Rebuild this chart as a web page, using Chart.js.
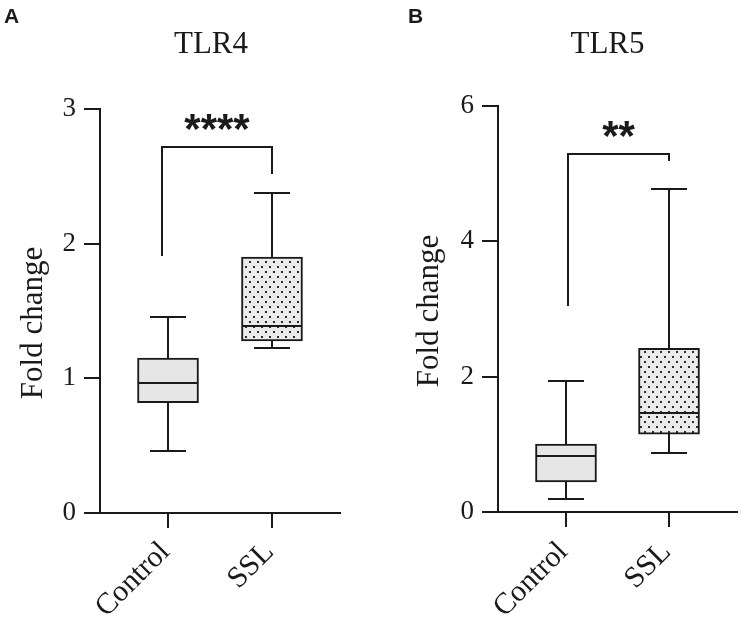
<!DOCTYPE html>
<html><head><meta charset="utf-8">
<script src="https://cdn.jsdelivr.net/npm/chart.js@4.4.1/dist/chart.umd.min.js"></script>
<style>
html,body{margin:0;padding:0;background:#fff;}
#wrap{position:relative;width:742px;height:626px;overflow:hidden;}
.panel{position:absolute;top:0;width:371px;height:626px;}
</style></head><body>
<div id="wrap">
<div class="panel" style="left:0"><canvas id="cA"></canvas></div>
<div class="panel" style="left:371px"><canvas id="cB"></canvas></div>
</div>
<script>
// ---- data ----
const categories = ['Control', 'SSL'];
const categoryPos = [1, 2];

const tlr4Min    = [0.46, 1.225];
const tlr4Q1     = [0.82, 1.277];
const tlr4Median = [0.965, 1.39];
const tlr4Q3     = [1.15, 1.90];
const tlr4Max    = [1.455, 2.376];
const tlr4Ticks  = [0, 1, 2, 3];
const tlr4Bracket = [1.91, 2.72, 2.52];   // left end, bar height, right end
const tlr4Sig = '****';

const tlr5Min    = [0.19, 0.87];
const tlr5Q1     = [0.443, 1.15];
const tlr5Median = [0.827, 1.46];
const tlr5Q3     = [1.004, 2.42];
const tlr5Max    = [1.935, 4.77];
const tlr5Ticks  = [0, 2, 4, 6];
const tlr5Bracket = [3.04, 5.29, 5.18];
const tlr5Sig = '**';

// ---- styles ----
const INK = '#1a1a1a';
const SERIF = '"Liberation Serif", "Times New Roman", serif';
const SANS = '"Liberation Sans", Arial, sans-serif';

function makeDotPattern() {
  const c = document.createElement('canvas');
  c.width = 8; c.height = 10;
  const g = c.getContext('2d');
  g.fillStyle = '#ebebeb'; g.fillRect(0, 0, 8, 10);
  g.fillStyle = '#2a2a2a';
  g.fillRect(1, 1, 2, 2);
  g.fillRect(5, 6, 2, 2);
  return g.createPattern(c, 'repeat');
}
const dotPattern = makeDotPattern();
const controlFill = '#e6e6e6';

function boxPlugin(p) {
  return {
    id: 'boxExtras' + p.letter,
    afterDatasetsDraw(chart) {
      const ctx = chart.ctx;
      const x = chart.scales.x, y = chart.scales.y;
      const R = v => Math.round(v);
      const line = (x1, y1, x2, y2) => { ctx.beginPath(); ctx.moveTo(x1, y1); ctx.lineTo(x2, y2); ctx.stroke(); };
      ctx.save();
      ctx.strokeStyle = INK; ctx.lineWidth = 2; ctx.lineCap = 'butt';
      p.xVals.forEach((xv, i) => {
        const px = R(x.getPixelForValue(xv));
        const hb = p.boxW / 2, hc = p.capW / 2;
        const yMed = R(y.getPixelForValue(p.median[i]));
        line(px - hb + 1, yMed, px + hb - 1, yMed);
        const yQ3 = R(y.getPixelForValue(p.q3[i])), yMax = R(y.getPixelForValue(p.max[i]));
        line(px, yQ3, px, yMax); line(px - hc, yMax, px + hc, yMax);
        const yQ1 = R(y.getPixelForValue(p.q1[i])), yMin = R(y.getPixelForValue(p.min[i]));
        line(px, yQ1, px, yMin); line(px - hc, yMin, px + hc, yMin);
      });
      // significance bracket
      const bl = R(x.getPixelForValue(p.brX[0])), br = R(x.getPixelForValue(p.brX[1]));
      const yb0 = R(y.getPixelForValue(p.bracket[0])), yTop = R(y.getPixelForValue(p.bracket[1])), yb1 = R(y.getPixelForValue(p.bracket[2]));
      ctx.beginPath(); ctx.moveTo(bl, yb0); ctx.lineTo(bl, yTop); ctx.lineTo(br, yTop); ctx.lineTo(br, yb1); ctx.stroke();
      ctx.fillStyle = INK;
      ctx.font = 'bold 42px ' + SANS;
      ctx.textAlign = 'center'; ctx.textBaseline = 'alphabetic';
      ctx.fillText(p.sig, (bl + br) / 2, yTop + p.sigDy);
      // category labels (rotated)
      ctx.font = '30px ' + SERIF;
      ctx.textAlign = 'right';
      p.xVals.forEach((xv, i) => {
        const px = x.getPixelForValue(xv);
        ctx.save();
        ctx.translate(px + p.labDx, p.labY);
        ctx.rotate(-Math.PI / 4);
        ctx.fillText(categories[i], 0, 0);
        ctx.restore();
      });
      // axis title
      ctx.save();
      ctx.font = '31px ' + SERIF;
      ctx.textAlign = 'center'; ctx.textBaseline = 'middle';
      ctx.translate(p.yTitle[0], p.yTitle[1]);
      ctx.rotate(-Math.PI / 2);
      ctx.fillText('Fold change', 0, 0);
      ctx.restore();
      // chart title
      ctx.font = '31px ' + SERIF;
      ctx.textAlign = 'center'; ctx.textBaseline = 'alphabetic';
      ctx.fillText(p.title, p.titlePos[0], p.titlePos[1]);
      // panel letter
      ctx.font = 'bold 21px ' + SANS;
      ctx.textAlign = 'left';
      ctx.fillText(p.letter, p.letterPos[0], p.letterPos[1]);
      ctx.restore();
    }
  };
}

function makeChart(id, p) {
  return new Chart(document.getElementById(id), {
    type: 'bar',
    data: {
      datasets: [{
        data: p.xVals.map((xv, i) => ({ x: xv, y: [p.q1[i], p.q3[i]] })),
        backgroundColor: [controlFill, dotPattern],
        borderColor: INK,
        borderWidth: 2,
        borderSkipped: false,
        barThickness: p.boxW
      }]
    },
    options: {
      responsive: true,
      maintainAspectRatio: false,
      animation: false,
      layout: { padding: p.padding },
      plugins: { legend: { display: false }, tooltip: { enabled: false }, title: { display: false } },
      scales: {
        x: {
          type: 'linear',
          offset: false,
          min: p.xRange[0], max: p.xRange[1],
          afterBuildTicks: s => { s.ticks = p.xVals.map(v => ({ value: v })); },
          afterFit: s => { s.height = p.xH; },
          ticks: { display: false },
          grid: { display: true, offset: false, drawOnChartArea: false, drawTicks: true, tickLength: 15, color: INK, lineWidth: 2 },
          border: { display: true, color: INK, width: 2 }
        },
        y: {
          min: p.ticks[0], max: p.ticks[p.ticks.length - 1],
          afterBuildTicks: s => { s.ticks = p.ticks.map(v => ({ value: v })); },
          afterFit: s => { s.width = p.yW; },
          ticks: { color: INK, font: { family: SERIF, size: 27 }, padding: 8, callback: v => String(v) },
          grid: { display: true, drawOnChartArea: false, drawTicks: true, tickLength: 16, color: INK, lineWidth: 2 },
          border: { display: true, color: INK, width: 2 }
        }
      }
    },
    plugins: [boxPlugin(p)]
  });
}

makeChart('cA', {
  letter: 'A', title: 'TLR4', sig: tlr4Sig, sigDy: -4,
  xVals: categoryPos, min: tlr4Min, q1: tlr4Q1, median: tlr4Median, q3: tlr4Q3, max: tlr4Max,
  ticks: tlr4Ticks, bracket: tlr4Bracket, brX: [0.942, 2.0],
  boxW: 61, capW: 36,
  xRange: [0.346, 2.654],
  padding: { top: 109, right: 31, bottom: 0, left: 0 }, yW: 100, xH: 113,
  titlePos: [211, 53], letterPos: [4, 23], yTitle: [34, 323],
  labDx: 3, labY: 553
});

makeChart('cB', {
  letter: 'B', title: 'TLR5', sig: tlr5Sig, sigDy: -4,
  xVals: categoryPos, min: tlr5Min, q1: tlr5Q1, median: tlr5Median, q3: tlr5Q3, max: tlr5Max,
  ticks: tlr5Ticks, bracket: tlr5Bracket, brX: [1.02, 2.0],
  boxW: 61, capW: 36,
  xRange: [0.34, 2.66],
  padding: { top: 106, right: 5, bottom: 0, left: 0 }, yW: 127, xH: 114,
  titlePos: [236.5, 53], letterPos: [37, 23], yTitle: [59, 311],
  labDx: 3, labY: 553
});
</script>
</body></html>
